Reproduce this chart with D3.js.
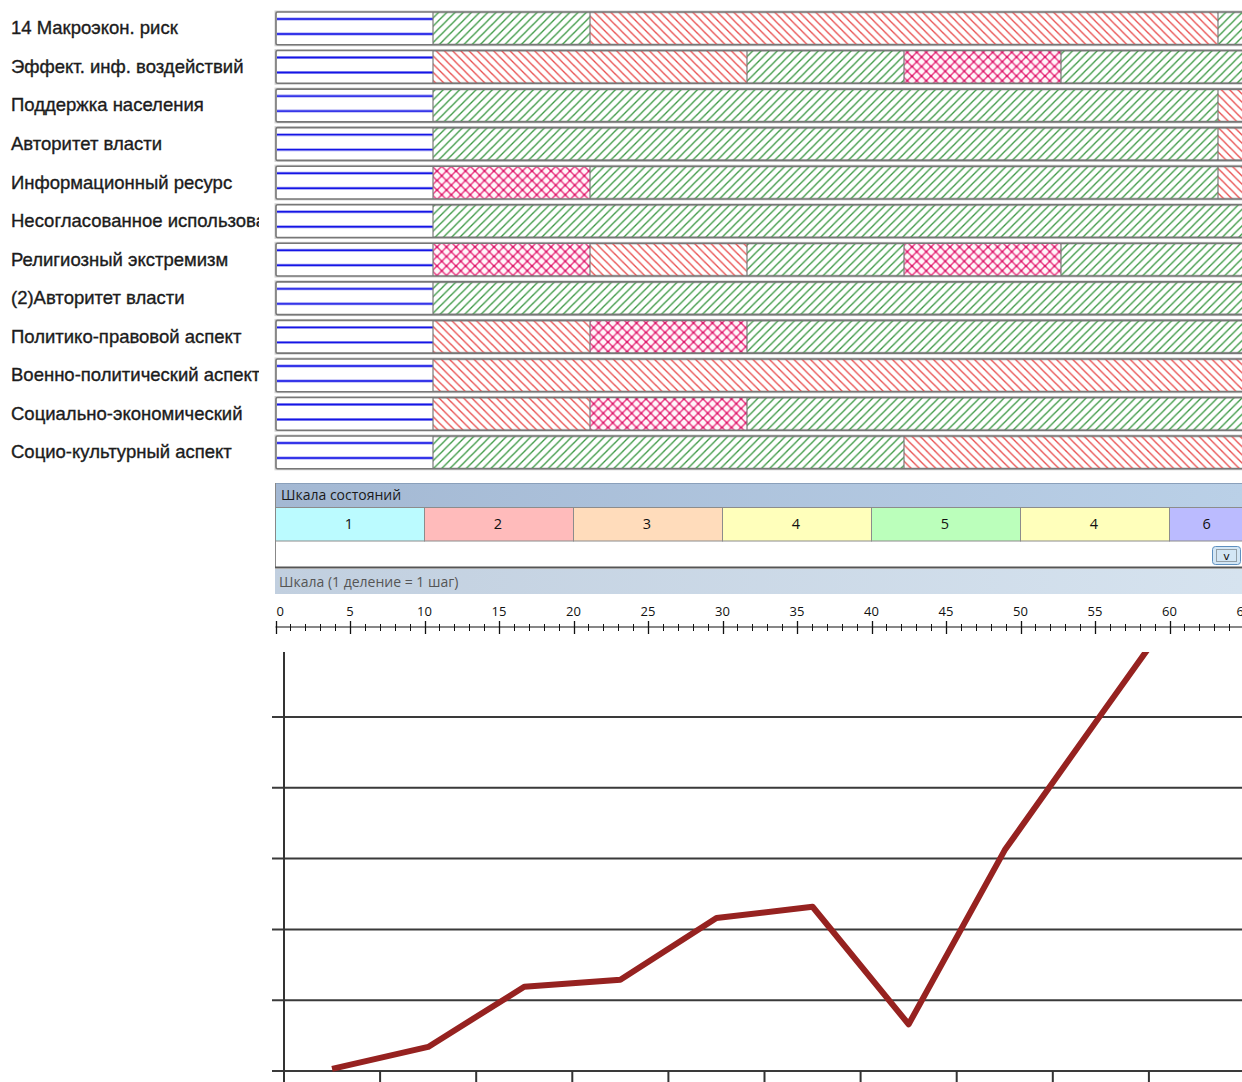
<!DOCTYPE html>
<html><head><meta charset="utf-8">
<script src="https://cdn.jsdelivr.net/npm/d3@7"></script>
<style>
html,body{margin:0;padding:0;background:#fff;}
svg{display:block;}
</style></head>
<body>
<svg id="c" width="1242" height="1082"></svg>
<script>
// ---------- DATA ----------
const rowLabels = [
  "14 Макроэкон. риск",
  "Эффект. инф. воздействий",
  "Поддержка населения",
  "Авторитет власти",
  "Информационный ресурс",
  "Несогласованное использование",
  "Религиозный экстремизм",
  "(2)Авторитет власти",
  "Политико-правовой аспект",
  "Военно-политический аспект",
  "Социально-экономический",
  "Социо-культурный аспект"
];
// b = blue (initial), g = green hatch, r = red hatch, x = pink cross-hatch
const rowStates = [
  ["b","g","r","r","r","r","g"],
  ["b","r","r","g","x","g","g"],
  ["b","g","g","g","g","g","r"],
  ["b","g","g","g","g","g","r"],
  ["b","x","g","g","g","g","r"],
  ["b","g","g","g","g","g","g"],
  ["b","x","r","g","x","g","g"],
  ["b","g","g","g","g","g","g"],
  ["b","r","x","g","g","g","g"],
  ["b","r","r","r","r","r","r"],
  ["b","r","x","g","g","g","g"],
  ["b","g","g","g","r","r","r"]
];
const scaleStates = ["1","2","3","4","5","4","6"];
const scaleStateColors = {"1":"#bbfbff","2":"#ffbbbb","3":"#ffdcbb","4":"#ffffbb","5":"#bbffbb","6":"#bbbbff"};
const stateStepUnits = 10;
const rulerMax = 65;
const rulerLabels = [0,5,10,15,20,25,30,35,40,45,50,55,60,65];
const lineCategories = [1,2,3,4,5,6,7,8,9,10];
const lineValues = [0.03,0.34,1.19,1.29,2.16,2.32,0.66,3.12,5.03,6.93];
const yGridValues = [0,1,2,3,4,5];

// ---------- SETUP ----------
const svg = d3.select("#c");
const defs = svg.append("defs");

function hatch(id, color, dir){
  const p = defs.append("pattern").attr("id",id).attr("patternUnits","userSpaceOnUse")
    .attr("width",8.2).attr("height",8.2);
  const d = dir>0 ? "M-2,2.1 L2.1,-2 M0,8.2 L8.2,0 M6.1,10.2 L10.2,6.1" : "M-2,6.1 L2.1,10.2 M0,0 L8.2,8.2 M6.1,-2 L10.2,2.1";
  p.append("path").attr("d",d).attr("stroke",color).attr("stroke-width",1.3).attr("fill","none");
}
hatch("pg","#3b9843",1);
hatch("pr","#e84c4c",-1);
{
  const s = 9.5;
  const p = defs.append("pattern").attr("id","px").attr("patternUnits","userSpaceOnUse")
    .attr("width",s).attr("height",s);
  p.append("rect").attr("width",s).attr("height",s).attr("fill","#fff6fa");
  p.append("path").attr("d",`M0,0 L${s},${s} M${s},0 L0,${s}`).attr("stroke","#ec3a84").attr("stroke-width",1.5).attr("fill","none");
  [[s/2,s/2],[0,0],[s,0],[0,s],[s,s]].forEach(c=>
    p.append("circle").attr("cx",c[0]).attr("cy",c[1]).attr("r",1.3).attr("fill","#d81b6a"));
}
const fillFor = {g:"url(#pg)", r:"url(#pr)", x:"url(#px)", b:"#fff"};

// ---------- GANTT ----------
const nSteps = 7;
const xg = d3.scaleLinear().domain([0,1]).range([276,433]);
const rowStep = 38.55, rowPad = 0.15;
const yRow = d3.scaleBand().domain(d3.range(rowLabels.length))
  .range([12, 12 + rowStep*(rowLabels.length - rowPad)]).paddingInner(rowPad).paddingOuter(0);

defs.append("clipPath").attr("id","labclip").append("rect").attr("x",0).attr("y",0).attr("width",259).attr("height",480);

const labG = svg.append("g").attr("clip-path","url(#labclip)");
labG.selectAll("text").data(rowLabels).join("text")
  .attr("x",11).attr("y",(d,i)=>yRow(i)+yRow.bandwidth()/2+6)
  .attr("font-family","'Liberation Sans Narrow','Liberation Sans',Arial,sans-serif")
  .attr("font-size",18.5).attr("fill","#1c1c1c").attr("stroke","#1c1c1c").attr("stroke-width",0.35)
  .text(d=>d);

rowStates.forEach((states,i)=>{
  const y0 = yRow(i), h = yRow.bandwidth();
  const g = svg.append("g");
  const runs = [];
  states.forEach((s,k)=>{
    if(runs.length && runs[runs.length-1].s===s) runs[runs.length-1].e = k+1;
    else runs.push({s:s,b:k,e:k+1});
  });
  g.append("rect").attr("x",xg(0)).attr("y",y0).attr("width",xg(nSteps)-xg(0)).attr("height",h)
    .attr("fill","#fff").attr("stroke","#d2d2d2").attr("stroke-width",3);
  g.selectAll("rect.seg").data(runs).join("rect").attr("class","seg")
    .attr("x",d=>xg(d.b)).attr("y",y0).attr("width",d=>xg(d.e)-xg(d.b)).attr("height",h)
    .attr("fill",d=>fillFor[d.s]);
  runs.filter(d=>d.s==="b").forEach(d=>{
    [7,22].forEach(off=>{
      g.append("line").attr("x1",xg(d.b)+1).attr("x2",xg(d.e)).attr("y1",y0+off).attr("y2",y0+off)
        .attr("stroke","#9a9af2").attr("stroke-width",3);
      g.append("line").attr("x1",xg(d.b)+1).attr("x2",xg(d.e)).attr("y1",y0+off).attr("y2",y0+off)
        .attr("stroke","#1515e6").attr("stroke-width",1.4);
    });
  });
  g.selectAll("line.sep").data(runs.slice(1)).join("line").attr("class","sep")
    .attr("x1",d=>xg(d.b)).attr("x2",d=>xg(d.b)).attr("y1",y0).attr("y2",y0+h)
    .attr("stroke","#7a7a7a").attr("stroke-width",1.2);
  g.append("rect").attr("x",xg(0)).attr("y",y0).attr("width",xg(nSteps)-xg(0)).attr("height",h)
    .attr("fill","none").attr("stroke","#777").attr("stroke-width",1.6).attr("rx",1.5);
});

// ---------- STATE SCALE ----------
const xs = d3.scaleLinear().domain([0,10]).range([275.5,424.5]);
const panelX = 275, panelR = 1244;
const hdr = defs.append("linearGradient").attr("id","hdr").attr("x1","0").attr("x2","1");
hdr.append("stop").attr("offset","0").attr("stop-color","#a3b8d3");
hdr.append("stop").attr("offset","1").attr("stop-color","#bad0e7");
const hdr2 = defs.append("linearGradient").attr("id","hdr2").attr("x1","0").attr("x2","1");
hdr2.append("stop").attr("offset","0").attr("stop-color","#c1cfdf");
hdr2.append("stop").attr("offset","1").attr("stop-color","#d6e3ef");

svg.append("rect").attr("x",panelX).attr("y",483).attr("width",panelR-panelX).attr("height",24).attr("fill","url(#hdr)");
svg.append("line").attr("x1",panelX).attr("x2",panelR).attr("y1",483.5).attr("y2",483.5).attr("stroke","#8aa0bb");
svg.append("text").attr("x",281).attr("y",500).attr("font-family","'Open Sans','Noto Sans',sans-serif")
  .attr("font-size",14).attr("fill","#1a1a1a").text("Шкала состояний");

svg.append("rect").attr("x",panelX).attr("y",507).attr("width",panelR-panelX).attr("height",60).attr("fill","#fff");
const stCells = scaleStates.map((s,i)=>{
  const a = xs(i*stateStepUnits), b = Math.min(xs((i+1)*stateStepUnits), panelR);
  return {s:s,a:a,b:b};
});
svg.selectAll("rect.st").data(stCells).join("rect").attr("class","st")
  .attr("x",d=>d.a).attr("y",507.5).attr("width",d=>d.b-d.a).attr("height",33.5)
  .attr("fill",d=>scaleStateColors[d.s]).attr("stroke","#8c8c8c").attr("stroke-width",1);
svg.selectAll("text.st").data(stCells).join("text").attr("class","st")
  .attr("x",d=>(d.a+d.b)/2 + (d.b-d.a<140?0:-1)).attr("y",529)
  .attr("text-anchor","middle").attr("font-family","'Open Sans','Noto Sans',sans-serif")
  .attr("font-size",14.5).attr("fill","#111").text(d=>d.s);
svg.append("line").attr("x1",panelX+0.5).attr("x2",panelX+0.5).attr("y1",483).attr("y2",568).attr("stroke","#888");
// button
svg.append("rect").attr("x",1212.5).attr("y",546.5).attr("width",28).attr("height",18).attr("rx",3)
  .attr("fill","#d3e6f5").attr("stroke","#5d8fbf").attr("stroke-width",1);
svg.append("rect").attr("x",1216.5).attr("y",549.5).attr("width",20).attr("height",12)
  .attr("fill","none").attr("stroke","#333").attr("stroke-width",0.8).attr("stroke-dasharray","1,1");
svg.append("text").attr("x",1226.5).attr("y",560).attr("text-anchor","middle").attr("font-family","'DejaVu Sans',sans-serif")
  .attr("font-size",11).attr("fill","#111").text("v");
svg.append("line").attr("x1",panelX).attr("x2",panelR).attr("y1",567.5).attr("y2",567.5).attr("stroke","#555").attr("stroke-width",2);

svg.append("rect").attr("x",panelX).attr("y",569).attr("width",panelR-panelX).attr("height",25).attr("fill","url(#hdr2)");
svg.append("text").attr("x",279).attr("y",587).attr("font-family","'Open Sans','Noto Sans',sans-serif")
  .attr("font-size",14).attr("fill","#555").text("Шкала (1 деление = 1 шаг)");

// ruler
const rg = svg.append("g");
rg.append("line").attr("x1",xs(0)).attr("x2",1242).attr("y1",627).attr("y2",627).attr("stroke","#111").attr("stroke-width",1.2);
rg.selectAll("line.tk").data(d3.range(0,rulerMax+1)).join("line").attr("class","tk")
  .attr("x1",d=>Math.round(xs(d))+0.5).attr("x2",d=>Math.round(xs(d))+0.5)
  .attr("y1",d=>d%5===0?621:624).attr("y2",d=>d%5===0?634:631)
  .attr("stroke","#111").attr("stroke-width",d=>d%5===0?1.3:1);
rg.selectAll("text").data(rulerLabels).join("text")
  .attr("x",d=>d===0?xs(d)+1:xs(d)).attr("y",616)
  .attr("text-anchor",d=>d===0?"start":"middle")
  .attr("font-family","'Open Sans','Noto Sans',sans-serif").attr("font-size",13).attr("fill","#111")
  .text(d=>d);

// ---------- LINE CHART ----------
const plotL = 284, plotT = 652, plotB = 1071;
const xb = d3.scaleBand().domain(lineCategories).range([plotL, plotL+96.1*lineCategories.length]);
const yl = d3.scaleLinear().domain([0,5]).range([plotB, plotB-70.8*5]);

defs.append("clipPath").attr("id","plotclip").append("rect").attr("x",plotL).attr("y",plotT).attr("width",1242-plotL).attr("height",plotB-plotT+10);

const lg = svg.append("g");
lg.selectAll("line.grid").data(yGridValues).join("line").attr("class","grid")
  .attr("x1",272).attr("x2",1242).attr("y1",d=>yl(d)).attr("y2",d=>yl(d))
  .attr("stroke","#3a3a3a").attr("stroke-width",2);
lg.append("line").attr("x1",plotL).attr("x2",plotL).attr("y1",plotT).attr("y2",1082).attr("stroke","#333").attr("stroke-width",2);
lg.selectAll("line.xt").data(lineCategories.slice(1)).join("line").attr("class","xt")
  .attr("x1",d=>xb(d)).attr("x2",d=>xb(d)).attr("y1",plotB).attr("y2",1082)
  .attr("stroke","#333").attr("stroke-width",2);

const line = d3.line().x((d,i)=>xb(lineCategories[i])+xb.bandwidth()/2).y(d=>yl(d));
lg.append("path").datum(lineValues).attr("d",line).attr("clip-path","url(#plotclip)")
  .attr("fill","none").attr("stroke","#962220").attr("stroke-width",6).attr("stroke-linejoin","round");
</script>
</body></html>
